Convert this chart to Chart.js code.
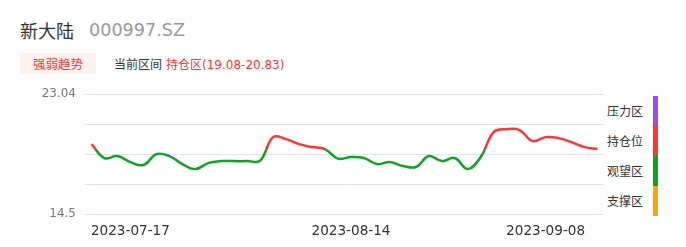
<!DOCTYPE html>
<html>
<head>
<meta charset="utf-8">
<script src="https://cdn.jsdelivr.net/npm/chart.js@4"></script>
<style>
  html, body { margin: 0; padding: 0; background: #fff; }
  body { width: 686px; height: 247px; position: relative; overflow: hidden;
         font-family: "DejaVu Sans", "Noto Sans CJK SC", sans-serif; }
  .abs { position: absolute; white-space: nowrap; }
  #name { left: 20px; top: 18px; font-size: 18px; line-height: 24px; color: #333; font-family: "Noto Sans CJK SC", sans-serif; }
  #code { left: 89px; top: 18px; font-size: 17.6px; line-height: 24px; color: #999; }
  #badge { left: 20px; top: 53px; width: 76px; height: 21px; background: #fff1ee; color: #f33;
           font-size: 12.5px; line-height: 21px; text-align: center; font-family: "Noto Sans CJK SC", sans-serif; }
  #cur { left: 114px; top: 53px; font-size: 12px; line-height: 21px; color: #333; font-family: "Noto Sans CJK SC", sans-serif; }
  #zone { left: 166px; top: 53px; font-size: 12px; line-height: 21px; color: #f33; }
  #zone span { font-family: "Noto Sans CJK SC", sans-serif; }
  .lg { left: 607px; font-size: 12px; line-height: 16px; color: #333; font-family: "Noto Sans CJK SC", sans-serif; }
  .bar { left: 653px; width: 5px; height: 30px; }
  #wrap { position: absolute; left: 0; top: 78px; width: 610px; height: 169px; }
</style>
</head>
<body>
<div id="name" class="abs">新大陆</div>
<div id="code" class="abs">000997.SZ</div>
<div id="badge" class="abs">强弱趋势</div>
<div id="cur" class="abs">当前区间</div>
<div id="zone" class="abs"><span>持仓区</span>(19.08-20.83)</div>
<div id="legend"></div>
<div id="wrap"><canvas id="c"></canvas></div>
<script>
const dates = [
  '2023-07-12', '2023-07-13', '2023-07-14', '2023-07-17', '2023-07-18', '2023-07-19', '2023-07-20', '2023-07-21',
  '2023-07-24', '2023-07-25', '2023-07-26', '2023-07-27', '2023-07-28', '2023-07-31', '2023-08-01', '2023-08-02',
  '2023-08-03', '2023-08-04', '2023-08-08', '2023-08-10', '2023-08-14', '2023-08-15', '2023-08-16', '2023-08-17',
  '2023-08-18', '2023-08-21', '2023-08-22', '2023-08-23', '2023-08-24', '2023-08-25', '2023-08-28', '2023-08-29',
  '2023-08-31', '2023-09-04', '2023-09-06', '2023-09-08', '2023-09-11', '2023-09-12', '2023-09-13', '2023-09-14'
];
const prices = [
  19.48, 18.49, 18.63, 18.20, 17.99, 18.77, 18.63, 18.06,
  17.70, 18.13, 18.27, 18.27, 18.27, 18.31, 19.98, 19.84,
  19.48, 19.27, 19.13, 18.45, 18.56, 18.49, 18.06, 18.20,
  17.92, 17.85, 18.63, 18.27, 18.49, 17.70, 18.56, 20.34,
  20.55, 20.48, 19.70, 19.98, 19.91, 19.62, 19.27, 19.13
];
const tickDates = ['2023-07-17', '2023-08-14', '2023-09-08'];
const yTicks = [14.5, 16.635, 18.77, 20.905, 23.04];
const yLabels = ['14.5', '', '', '', '23.04'];
const holdLow = 19.08;
const holdHigh = 20.83;
const zoneNames = ['压力区', '持仓位', '观望区', '支撑区'];
const zoneColors = ['#9d4cf0', '#ff3535', '#0ea321', '#ffa800'];

// legend on the right
const legend = document.getElementById('legend');
zoneNames.forEach((n, i) => {
  const t = document.createElement('div');
  t.className = 'abs lg';
  t.style.top = (103 + i * 30) + 'px';
  t.textContent = n;
  legend.appendChild(t);
  const b = document.createElement('div');
  b.className = 'abs bar';
  b.style.top = (96 + i * 30) + 'px';
  b.style.background = zoneColors[i];
  legend.appendChild(b);
});

function lineColor(ctx) {
  const chart = ctx.chart;
  const area = chart.chartArea;
  if (!area) return zoneColors[2];
  const y = chart.scales.y;
  const top = area.top, h = area.bottom - area.top;
  const pHigh = Math.min(Math.max((y.getPixelForValue(holdHigh) - top) / h, 0), 1);
  const pLow = Math.min(Math.max((y.getPixelForValue(holdLow) - top) / h, 0), 1);
  const g = chart.ctx.createLinearGradient(0, top, 0, area.bottom);
  g.addColorStop(0, zoneColors[0]);
  g.addColorStop(pHigh, zoneColors[0]);
  g.addColorStop(pHigh, zoneColors[1]);
  g.addColorStop(pLow, zoneColors[1]);
  g.addColorStop(pLow, zoneColors[2]);
  g.addColorStop(1, zoneColors[2]);
  return g;
}

new Chart(document.getElementById('c'), {
  type: 'line',
  data: {
    labels: dates,
    datasets: [{
      data: prices,
      borderColor: lineColor,
      borderWidth: 2.5,
      pointRadius: 0,
      tension: 0.4,
      fill: false
    }]
  },
  options: {
    responsive: true,
    maintainAspectRatio: false,
    animation: false,
    layout: { padding: { top: 4, right: 6, left: 0, bottom: 0 } },
    scales: {
      x: {
        offset: true,
        grid: { display: false, drawTicks: false },
        border: { display: false },
        afterFit: (axis) => { axis.height = 33; },
        ticks: {
          autoSkip: false,
          maxRotation: 0,
          padding: 9,
          color: '#333',
          font: { family: 'DejaVu Sans', size: 13.6 },
          callback: function(value) {
            const d = this.getLabelForValue(value);
            return tickDates.includes(d) ? d : '';
          }
        }
      },
      y: {
        min: 14.5,
        max: 23.04,
        afterBuildTicks: (axis) => { axis.ticks = yTicks.map(v => ({ value: v })); },
        afterFit: (axis) => { axis.width = 85; },
        grid: { color: '#dfe4f2', drawTicks: false, lineWidth: 1 },
        border: { display: false },
        ticks: {
          padding: 9,
          color: '#777',
          font: { family: 'DejaVu Sans', size: 12 },
          callback: (value, i) => yLabels[i]
        }
      }
    },
    plugins: {
      legend: { display: false },
      tooltip: { enabled: false }
    }
  }
});
</script>
</body>
</html>
